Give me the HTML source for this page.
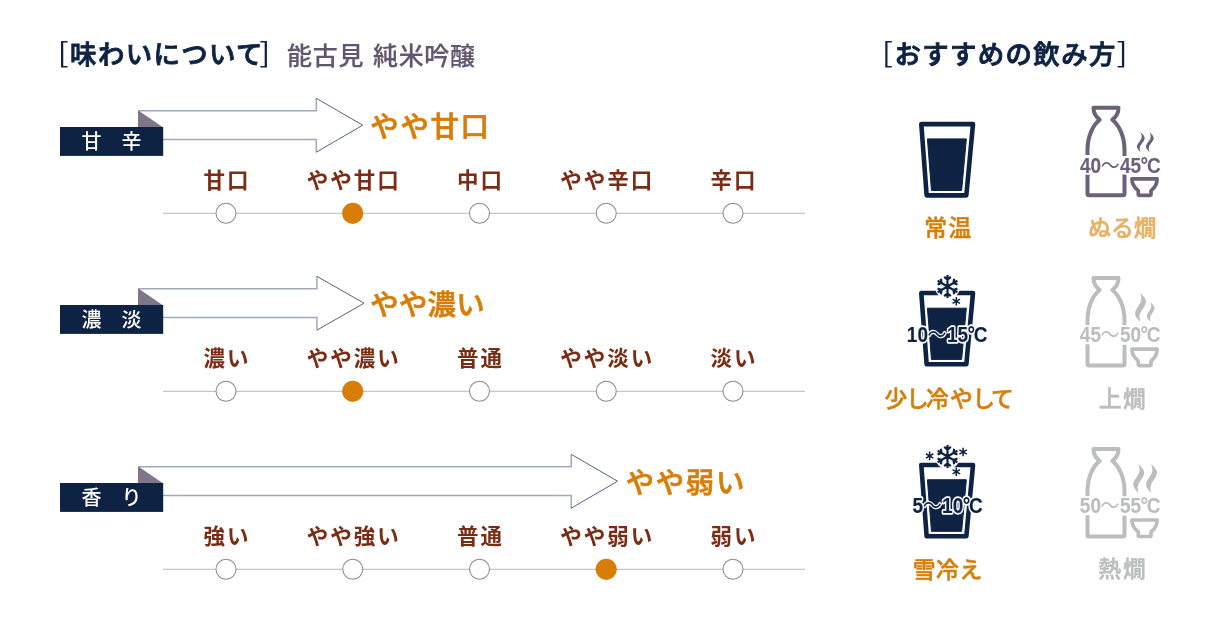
<!DOCTYPE html>
<html lang="ja">
<head>
<meta charset="utf-8">
<title>味わいについて</title>
<style>
html,body{margin:0;padding:0;background:#fff;}
body{width:1221px;height:621px;overflow:hidden;font-family:"Liberation Sans","Noto Sans CJK JP",sans-serif;}
svg{display:block;will-change:transform;}
text{font-family:"Liberation Sans","Noto Sans CJK JP",sans-serif;}
.hd{font-size:26.4px;font-weight:500;fill:#0e2244;stroke:#0e2244;stroke-width:0.9px;letter-spacing:1.4px;}
.br{font-family:"Noto Sans CJK JP","Liberation Sans",sans-serif;font-size:27.6px;font-weight:400;fill:#0e2244;}
.sub{font-size:25px;word-spacing:1.2px;letter-spacing:0.7px;font-weight:500;fill:#60566e;stroke:#60566e;stroke-width:0.2px;}
.tag{font-size:20px;font-weight:500;fill:#fff;}
.res{font-size:28.4px;font-weight:500;fill:#d87e08;stroke:#d87e08;stroke-width:0.7px;}
.lab{font-size:21.5px;font-weight:700;fill:#7a2d14;text-anchor:middle;letter-spacing:2px;}
.dl{font-size:22.8px;font-weight:500;text-anchor:middle;stroke-width:0.5px;}
.tmp,.tmph{font-family:"Liberation Sans","Noto Sans CJK JP",sans-serif;font-weight:700;text-anchor:middle;stroke-linejoin:round;}
.tmp{stroke-width:0.15px;}
.tmph{fill:#fff;stroke:#fff;stroke-width:3.4px;}
.tl{font-family:"Liberation Sans","Noto Sans CJK JP",sans-serif;font-weight:400;}
.tmp .tl{stroke-width:0;}
.tmph .tl{stroke-width:2.6px;}
</style>
</head>
<body>
<svg width="1221" height="621" viewBox="0 0 1221 621">

<text class="br" transform="translate(57.6,62.6) scale(1.2,1)">[</text><text class="hd" x="70.1" y="64.4">味わいについて</text><text class="br" transform="translate(259.2,62.6) scale(1.2,1)">]</text>
<text class="sub" x="287" y="64.7">能古見 純米吟醸</text>
<text class="br" transform="translate(881.7,62.6) scale(1.2,1)">[</text><text class="hd" x="894.4" y="64.4">おすすめの飲み方</text><text class="br" transform="translate(1116.4,62.6) scale(1.2,1)">]</text>
<g transform="translate(0,0)">
<path d="M138.5 110.7H316.3V98.3M316.3 152.2V139.5H163" fill="none" stroke="#a0a9b9" stroke-width="1.5"/>
<path d="M316.3 98.3L362.7 125.2L316.3 152.2" fill="none" stroke="#55637f" stroke-width="1"/>
<path d="M138 110.2V127.5H163.3Z" fill="#7f7687"/>
<rect x="60" y="127" width="103.2" height="28.9" fill="#0e2244"/>
<text class="tag" x="81.5" y="148.5">甘　辛</text>
<text class="res" x="370.3" y="136.7" letter-spacing="1.7">やや甘口</text>
<line x1="163" y1="213.3" x2="805" y2="213.3" stroke="#b8b8b8" stroke-width="1"/>
<circle cx="226.00" cy="213.3" r="10" fill="#fff" stroke="#8a8a8a" stroke-width="1.05"/>
<text class="lab" x="226.90" y="188">甘口</text>
<circle cx="352.75" cy="213.3" r="10.6" fill="#d87e08"/>
<text class="lab" x="353.65" y="188">やや甘口</text>
<circle cx="479.50" cy="213.3" r="10" fill="#fff" stroke="#8a8a8a" stroke-width="1.05"/>
<text class="lab" x="480.40" y="188">中口</text>
<circle cx="606.25" cy="213.3" r="10" fill="#fff" stroke="#8a8a8a" stroke-width="1.05"/>
<text class="lab" x="607.15" y="188">やや辛口</text>
<circle cx="733.00" cy="213.3" r="10" fill="#fff" stroke="#8a8a8a" stroke-width="1.05"/>
<text class="lab" x="733.90" y="188">辛口</text>
</g>
<g transform="translate(0,178)">
<path d="M138.5 110.7H316.9V98.3M316.9 152.2V139.5H163" fill="none" stroke="#a0a9b9" stroke-width="1.5"/>
<path d="M316.9 98.3L364.0 125.2L316.9 152.2" fill="none" stroke="#55637f" stroke-width="1"/>
<path d="M138 110.2V127.5H163.3Z" fill="#7f7687"/>
<rect x="60" y="127" width="103.2" height="28.9" fill="#0e2244"/>
<text class="tag" x="81.5" y="148.5">濃　淡</text>
<text class="res" x="370.2" y="137.1" letter-spacing="0.3">やや濃い</text>
<line x1="163" y1="213.3" x2="805" y2="213.3" stroke="#b8b8b8" stroke-width="1"/>
<circle cx="226.00" cy="213.3" r="10" fill="#fff" stroke="#8a8a8a" stroke-width="1.05"/>
<text class="lab" x="226.90" y="188">濃い</text>
<circle cx="352.75" cy="213.3" r="10.6" fill="#d87e08"/>
<text class="lab" x="353.65" y="188">やや濃い</text>
<circle cx="479.50" cy="213.3" r="10" fill="#fff" stroke="#8a8a8a" stroke-width="1.05"/>
<text class="lab" x="480.40" y="188">普通</text>
<circle cx="606.25" cy="213.3" r="10" fill="#fff" stroke="#8a8a8a" stroke-width="1.05"/>
<text class="lab" x="607.15" y="188">やや淡い</text>
<circle cx="733.00" cy="213.3" r="10" fill="#fff" stroke="#8a8a8a" stroke-width="1.05"/>
<text class="lab" x="733.90" y="188">淡い</text>
</g>
<g transform="translate(0,356)">
<path d="M138.5 110.7H571.2V98.3M571.2 152.2V139.5H163" fill="none" stroke="#a0a9b9" stroke-width="1.5"/>
<path d="M571.2 98.3L617.6 125.2L571.2 152.2" fill="none" stroke="#55637f" stroke-width="1"/>
<path d="M138 110.2V127.5H163.3Z" fill="#7f7687"/>
<rect x="60" y="127" width="103.2" height="28.9" fill="#0e2244"/>
<text class="tag" x="81.5" y="148.5">香　り</text>
<text class="res" x="625.7" y="136.5" letter-spacing="1.7">やや弱い</text>
<line x1="163" y1="213.3" x2="805" y2="213.3" stroke="#b8b8b8" stroke-width="1"/>
<circle cx="226.00" cy="213.3" r="10" fill="#fff" stroke="#8a8a8a" stroke-width="1.05"/>
<text class="lab" x="226.90" y="188">強い</text>
<circle cx="352.75" cy="213.3" r="10" fill="#fff" stroke="#8a8a8a" stroke-width="1.05"/>
<text class="lab" x="353.65" y="188">やや強い</text>
<circle cx="479.50" cy="213.3" r="10" fill="#fff" stroke="#8a8a8a" stroke-width="1.05"/>
<text class="lab" x="480.40" y="188">普通</text>
<circle cx="606.25" cy="213.3" r="10.6" fill="#d87e08"/>
<text class="lab" x="607.15" y="188">やや弱い</text>
<circle cx="733.00" cy="213.3" r="10" fill="#fff" stroke="#8a8a8a" stroke-width="1.05"/>
<text class="lab" x="733.90" y="188">弱い</text>
</g>
<g transform="translate(0,0.00)"><path d="M921.30 124.10H973.00L966.35 195.40H926.65Z" fill="none" stroke="#0e2244" stroke-width="4.6" stroke-linejoin="round"/><path d="M927.43 138.90H966.36L961.65 190.5H931.46Z" fill="#0e2244" stroke="#0e2244" stroke-width="1" stroke-linejoin="round"/></g>
<g transform="translate(0,0.00)"><path d="M1093.5 107.8H1118.5C1118.5 113 1116 117 1112.3 119.7C1119 125 1124.5 136 1124.5 150V193.8Q1124.5 195.3 1123 195.3H1089Q1087.5 195.3 1087.5 193.8V150C1087.5 136 1093 125 1099.7 119.7C1096 117 1093.5 113 1093.5 107.8Z" fill="none" stroke="#6b6279" stroke-width="4" stroke-linejoin="round"/><path d="M1131.9 178.8H1157.1C1157.1 184 1154.5 188 1151 190.8V194Q1151 195.3 1149.7 195.3H1139.6Q1138.3 195.3 1138.3 194V190.8C1134.8 188 1131.9 184 1131.9 178.8Z" fill="none" stroke="#6b6279" stroke-width="3.7" stroke-linejoin="round"/><rect x="1084" y="155" width="7" height="19" fill="#fff"/><rect x="1121" y="156" width="7" height="18.5" fill="#fff"/><path d="M1140.50 132.30L1141.46 133.12L1142.33 133.95L1143.10 134.78L1143.74 135.60L1144.21 136.43L1144.51 137.25L1144.62 138.08L1144.55 138.90L1144.31 139.72L1143.93 140.55L1143.43 141.38L1142.85 142.20L1142.24 143.03L1141.63 143.85L1141.06 144.68L1140.57 145.50L1140.18 146.32L1139.91 147.15L1139.77 147.97L1139.75 148.80L1139.85 149.62L1140.03 150.45L1140.27 151.28L1140.50 152.10L1140.50 152.10L1139.64 151.28L1138.88 150.45L1138.21 149.62L1137.66 148.80L1137.27 147.97L1137.06 147.15L1137.01 146.32L1137.14 145.50L1137.43 144.68L1137.85 143.85L1138.37 143.03L1138.95 142.20L1139.56 141.38L1140.15 140.55L1140.68 139.72L1141.13 138.90L1141.46 138.08L1141.66 137.25L1141.72 136.43L1141.65 135.60L1141.46 134.78L1141.18 133.95L1140.84 133.12L1140.50 132.30Z" fill="#6b6279"/><path d="M1149.50 132.30L1150.46 133.12L1151.33 133.95L1152.10 134.78L1152.74 135.60L1153.21 136.43L1153.51 137.25L1153.62 138.08L1153.55 138.90L1153.31 139.72L1152.93 140.55L1152.43 141.38L1151.85 142.20L1151.24 143.03L1150.63 143.85L1150.06 144.68L1149.57 145.50L1149.18 146.32L1148.91 147.15L1148.77 147.97L1148.75 148.80L1148.85 149.62L1149.03 150.45L1149.27 151.28L1149.50 152.10L1149.50 152.10L1148.64 151.28L1147.88 150.45L1147.21 149.62L1146.66 148.80L1146.27 147.97L1146.06 147.15L1146.01 146.32L1146.14 145.50L1146.43 144.68L1146.85 143.85L1147.37 143.03L1147.95 142.20L1148.56 141.38L1149.15 140.55L1149.68 139.72L1150.13 138.90L1150.46 138.08L1150.66 137.25L1150.72 136.43L1150.65 135.60L1150.46 134.78L1150.18 133.95L1149.84 133.12L1149.50 132.30Z" fill="#6b6279"/></g>
<text class="tmph" transform="translate(1120.30,172.80) scale(0.880,1)" font-size="21.6">40<tspan class="tl" dx="-0.5">～</tspan><tspan dx="0.4">45</tspan><tspan dx="-0.6">°</tspan><tspan dx="-1.4">C</tspan></text><text class="tmp" transform="translate(1120.30,172.80) scale(0.880,1)" font-size="21.6" fill="#6b6279" stroke="#6b6279">40<tspan class="tl" dx="-0.5">～</tspan><tspan dx="0.4">45</tspan><tspan dx="-0.6">°</tspan><tspan dx="-1.4">C</tspan></text>
<text class="dl" x="948.40" y="236.00" fill="#d87e08" stroke="#d87e08" letter-spacing="1.40">常温</text>
<text class="dl" x="1122.40" y="236.00" fill="#e8b064" stroke="#e8b064" letter-spacing="0.00">ぬる燗</text>
<g transform="translate(0,168.90)"><path d="M921.30 124.10H973.00L966.35 195.40H926.65Z" fill="none" stroke="#0e2244" stroke-width="4.6" stroke-linejoin="round"/><path d="M927.46 139.30H966.33L961.65 190.5H931.46Z" fill="#0e2244" stroke="#0e2244" stroke-width="1" stroke-linejoin="round"/></g>
<circle cx="947.50" cy="286.50" r="12.60" fill="#fff"/><path d="M947.50 286.50L947.50 297.90M947.50 293.34L950.82 296.12M947.50 293.34L944.18 296.12M947.50 286.50L937.63 292.20M941.58 289.92L940.82 294.19M941.58 289.92L937.51 288.44M947.50 286.50L937.63 280.80M941.58 283.08L937.51 284.56M941.58 283.08L940.82 278.81M947.50 286.50L947.50 275.10M947.50 279.66L944.18 276.88M947.50 279.66L950.82 276.88M947.50 286.50L957.37 280.80M953.42 283.08L954.18 278.81M953.42 283.08L957.49 284.56M947.50 286.50L957.37 292.20M953.42 289.92L957.49 288.44M953.42 289.92L954.18 294.19" fill="none" stroke="#0e2244" stroke-width="2.2" stroke-linecap="butt"/>
<path d="M956.30 297.00L956.30 305.60M960.02 299.15L952.58 303.45M960.02 303.45L952.58 299.15" fill="none" stroke="#fff" stroke-width="4.0"/><path d="M956.30 297.00L956.30 305.60M960.02 299.15L952.58 303.45M960.02 303.45L952.58 299.15" fill="none" stroke="#0e2244" stroke-width="1.5"/>
<g transform="translate(0,170.30)"><path d="M1093.5 107.8H1118.5C1118.5 113 1116 117 1112.3 119.7C1119 125 1124.5 136 1124.5 150V193.8Q1124.5 195.3 1123 195.3H1089Q1087.5 195.3 1087.5 193.8V150C1087.5 136 1093 125 1099.7 119.7C1096 117 1093.5 113 1093.5 107.8Z" fill="none" stroke="#bcbebd" stroke-width="4" stroke-linejoin="round"/><path d="M1131.9 178.8H1157.1C1157.1 184 1154.5 188 1151 190.8V194Q1151 195.3 1149.7 195.3H1139.6Q1138.3 195.3 1138.3 194V190.8C1134.8 188 1131.9 184 1131.9 178.8Z" fill="none" stroke="#bcbebd" stroke-width="3.7" stroke-linejoin="round"/><rect x="1084" y="155" width="7" height="19" fill="#fff"/><rect x="1121" y="156" width="7" height="18.5" fill="#fff"/><path d="M1140.20 122.80L1141.52 124.00L1142.72 125.19L1143.78 126.39L1144.66 127.58L1145.32 128.78L1145.75 129.98L1145.93 131.17L1145.87 132.37L1145.58 133.56L1145.09 134.76L1144.45 135.95L1143.70 137.15L1142.90 138.35L1142.09 139.54L1141.34 140.74L1140.67 141.93L1140.14 143.13L1139.75 144.32L1139.53 145.52L1139.46 146.72L1139.54 147.91L1139.72 149.11L1139.97 150.30L1140.20 151.50L1140.20 151.50L1138.98 150.30L1137.89 149.11L1136.93 147.91L1136.14 146.72L1135.56 145.52L1135.21 144.32L1135.10 143.13L1135.22 141.93L1135.56 140.74L1136.08 139.54L1136.74 138.35L1137.50 137.15L1138.30 135.95L1139.08 134.76L1139.80 133.56L1140.42 132.37L1140.90 131.17L1141.21 129.98L1141.36 128.78L1141.34 127.58L1141.17 126.39L1140.89 125.19L1140.53 124.00L1140.20 122.80Z" fill="#bcbebd"/><path d="M1150.40 131.90L1151.33 132.72L1152.17 133.53L1152.92 134.35L1153.54 135.17L1154.01 135.98L1154.33 136.80L1154.48 137.62L1154.46 138.43L1154.28 139.25L1153.97 140.07L1153.55 140.88L1153.05 141.70L1152.51 142.52L1151.97 143.33L1151.45 144.15L1150.99 144.97L1150.61 145.78L1150.33 146.60L1150.15 147.42L1150.07 148.23L1150.09 149.05L1150.17 149.87L1150.29 150.68L1150.40 151.50L1150.40 151.50L1149.57 150.68L1148.84 149.87L1148.19 149.05L1147.66 148.23L1147.27 147.42L1147.04 146.60L1146.96 145.78L1147.04 144.97L1147.26 144.15L1147.61 143.33L1148.05 142.52L1148.55 141.70L1149.08 140.88L1149.61 140.07L1150.09 139.25L1150.50 138.43L1150.82 137.62L1151.04 136.80L1151.14 135.98L1151.13 135.17L1151.02 134.35L1150.84 133.53L1150.61 132.72L1150.40 131.90Z" fill="#bcbebd"/></g>
<text class="tmph" transform="translate(947.20,342.00) scale(0.880,1)" font-size="21.6">10<tspan class="tl" dx="-0.5">～</tspan><tspan dx="0.4">15</tspan><tspan dx="-0.6">°</tspan><tspan dx="-1.4">C</tspan></text><text class="tmp" transform="translate(947.20,342.00) scale(0.880,1)" font-size="21.6" fill="#0e2244" stroke="#0e2244">10<tspan class="tl" dx="-0.5">～</tspan><tspan dx="0.4">15</tspan><tspan dx="-0.6">°</tspan><tspan dx="-1.4">C</tspan></text>
<text class="tmph" transform="translate(1120.20,342.10) scale(0.880,1)" font-size="21.6">45<tspan class="tl" dx="-0.5">～</tspan><tspan dx="0.4">50</tspan><tspan dx="-0.6">°</tspan><tspan dx="-1.4">C</tspan></text><text class="tmp" transform="translate(1120.20,342.10) scale(0.880,1)" font-size="21.6" fill="#bcbebd" stroke="#bcbebd">45<tspan class="tl" dx="-0.5">～</tspan><tspan dx="0.4">50</tspan><tspan dx="-0.6">°</tspan><tspan dx="-1.4">C</tspan></text>
<text class="dl" style="text-anchor:start" x="884.45 906.05 926.05 950.05 972.25 991.05" y="407" fill="#d87e08" stroke="#d87e08">少し冷やして</text>
<text class="dl" x="1122.95" y="407.00" fill="#bcbebd" stroke="#bcbebd" letter-spacing="1.30">上燗</text>
<g transform="translate(0,340.85)"><path d="M921.30 124.10H973.00L966.35 195.40H926.65Z" fill="none" stroke="#0e2244" stroke-width="4.6" stroke-linejoin="round"/><path d="M927.43 138.90H966.36L961.65 190.5H931.46Z" fill="#0e2244" stroke="#0e2244" stroke-width="1" stroke-linejoin="round"/></g>
<circle cx="947.50" cy="456.50" r="12.60" fill="#fff"/><path d="M947.50 456.50L947.50 467.90M947.50 463.34L950.82 466.12M947.50 463.34L944.18 466.12M947.50 456.50L937.63 462.20M941.58 459.92L940.82 464.19M941.58 459.92L937.51 458.44M947.50 456.50L937.63 450.80M941.58 453.08L937.51 454.56M941.58 453.08L940.82 448.81M947.50 456.50L947.50 445.10M947.50 449.66L944.18 446.88M947.50 449.66L950.82 446.88M947.50 456.50L957.37 450.80M953.42 453.08L954.18 448.81M953.42 453.08L957.49 454.56M947.50 456.50L957.37 462.20M953.42 459.92L957.49 458.44M953.42 459.92L954.18 464.19" fill="none" stroke="#0e2244" stroke-width="2.2" stroke-linecap="butt"/>
<path d="M929.60 451.60L929.60 460.20M933.32 453.75L925.88 458.05M933.32 458.05L925.88 453.75" fill="none" stroke="#fff" stroke-width="4.0"/><path d="M929.60 451.60L929.60 460.20M933.32 453.75L925.88 458.05M933.32 458.05L925.88 453.75" fill="none" stroke="#0e2244" stroke-width="1.5"/>
<path d="M963.10 447.70L963.10 456.30M966.82 449.85L959.38 454.15M966.82 454.15L959.38 449.85" fill="none" stroke="#fff" stroke-width="4.0"/><path d="M963.10 447.70L963.10 456.30M966.82 449.85L959.38 454.15M966.82 454.15L959.38 449.85" fill="none" stroke="#0e2244" stroke-width="1.5"/>
<path d="M956.30 467.50L956.30 476.10M960.02 469.65L952.58 473.95M960.02 473.95L952.58 469.65" fill="none" stroke="#fff" stroke-width="4.0"/><path d="M956.30 467.50L956.30 476.10M960.02 469.65L952.58 473.95M960.02 473.95L952.58 469.65" fill="none" stroke="#0e2244" stroke-width="1.5"/>
<g transform="translate(0,341.20)"><path d="M1093.5 107.8H1118.5C1118.5 113 1116 117 1112.3 119.7C1119 125 1124.5 136 1124.5 150V193.8Q1124.5 195.3 1123 195.3H1089Q1087.5 195.3 1087.5 193.8V150C1087.5 136 1093 125 1099.7 119.7C1096 117 1093.5 113 1093.5 107.8Z" fill="none" stroke="#bcbebd" stroke-width="4" stroke-linejoin="round"/><path d="M1131.9 178.8H1157.1C1157.1 184 1154.5 188 1151 190.8V194Q1151 195.3 1149.7 195.3H1139.6Q1138.3 195.3 1138.3 194V190.8C1134.8 188 1131.9 184 1131.9 178.8Z" fill="none" stroke="#bcbebd" stroke-width="3.7" stroke-linejoin="round"/><rect x="1084" y="155" width="7" height="19" fill="#fff"/><rect x="1121" y="156" width="7" height="18.5" fill="#fff"/><path d="M1138.40 122.90L1139.72 124.10L1140.92 125.30L1141.98 126.50L1142.86 127.70L1143.52 128.90L1143.95 130.10L1144.13 131.30L1144.07 132.50L1143.78 133.70L1143.29 134.90L1142.65 136.10L1141.90 137.30L1141.10 138.50L1140.29 139.70L1139.54 140.90L1138.87 142.10L1138.34 143.30L1137.95 144.50L1137.73 145.70L1137.66 146.90L1137.74 148.10L1137.92 149.30L1138.17 150.50L1138.40 151.70L1138.40 151.70L1137.18 150.50L1136.09 149.30L1135.13 148.10L1134.34 146.90L1133.76 145.70L1133.41 144.50L1133.30 143.30L1133.42 142.10L1133.76 140.90L1134.28 139.70L1134.94 138.50L1135.70 137.30L1136.50 136.10L1137.28 134.90L1138.00 133.70L1138.62 132.50L1139.10 131.30L1139.41 130.10L1139.56 128.90L1139.54 127.70L1139.37 126.50L1139.09 125.30L1138.73 124.10L1138.40 122.90Z" fill="#bcbebd"/><path d="M1151.20 122.90L1152.52 124.10L1153.72 125.30L1154.78 126.50L1155.66 127.70L1156.32 128.90L1156.75 130.10L1156.93 131.30L1156.87 132.50L1156.58 133.70L1156.09 134.90L1155.45 136.10L1154.70 137.30L1153.90 138.50L1153.09 139.70L1152.34 140.90L1151.67 142.10L1151.14 143.30L1150.75 144.50L1150.53 145.70L1150.46 146.90L1150.54 148.10L1150.72 149.30L1150.97 150.50L1151.20 151.70L1151.20 151.70L1149.98 150.50L1148.89 149.30L1147.93 148.10L1147.14 146.90L1146.56 145.70L1146.21 144.50L1146.10 143.30L1146.22 142.10L1146.56 140.90L1147.08 139.70L1147.74 138.50L1148.50 137.30L1149.30 136.10L1150.08 134.90L1150.80 133.70L1151.42 132.50L1151.90 131.30L1152.21 130.10L1152.36 128.90L1152.34 127.70L1152.17 126.50L1151.89 125.30L1151.53 124.10L1151.20 122.90Z" fill="#bcbebd"/></g>
<text class="tmph" transform="translate(947.70,513.00) scale(0.880,1)" font-size="21.6">5<tspan class="tl" dx="-0.5">～</tspan><tspan dx="0.4">10</tspan><tspan dx="-0.6">°</tspan><tspan dx="-1.4">C</tspan></text><text class="tmp" transform="translate(947.70,513.00) scale(0.880,1)" font-size="21.6" fill="#0e2244" stroke="#0e2244">5<tspan class="tl" dx="-0.5">～</tspan><tspan dx="0.4">10</tspan><tspan dx="-0.6">°</tspan><tspan dx="-1.4">C</tspan></text>
<text class="tmph" transform="translate(1120.20,513.00) scale(0.880,1)" font-size="21.6">50<tspan class="tl" dx="-0.5">～</tspan><tspan dx="0.4">55</tspan><tspan dx="-0.6">°</tspan><tspan dx="-1.4">C</tspan></text><text class="tmp" transform="translate(1120.20,513.00) scale(0.880,1)" font-size="21.6" fill="#bcbebd" stroke="#bcbebd">50<tspan class="tl" dx="-0.5">～</tspan><tspan dx="0.4">55</tspan><tspan dx="-0.6">°</tspan><tspan dx="-1.4">C</tspan></text>
<text class="dl" x="947.83" y="578.20" fill="#d87e08" stroke="#d87e08" letter-spacing="0.65">雪冷え</text>
<text class="dl" x="1122.90" y="577.20" fill="#bcbebd" stroke="#bcbebd" letter-spacing="1.80">熱燗</text>
</svg>
</body>
</html>
